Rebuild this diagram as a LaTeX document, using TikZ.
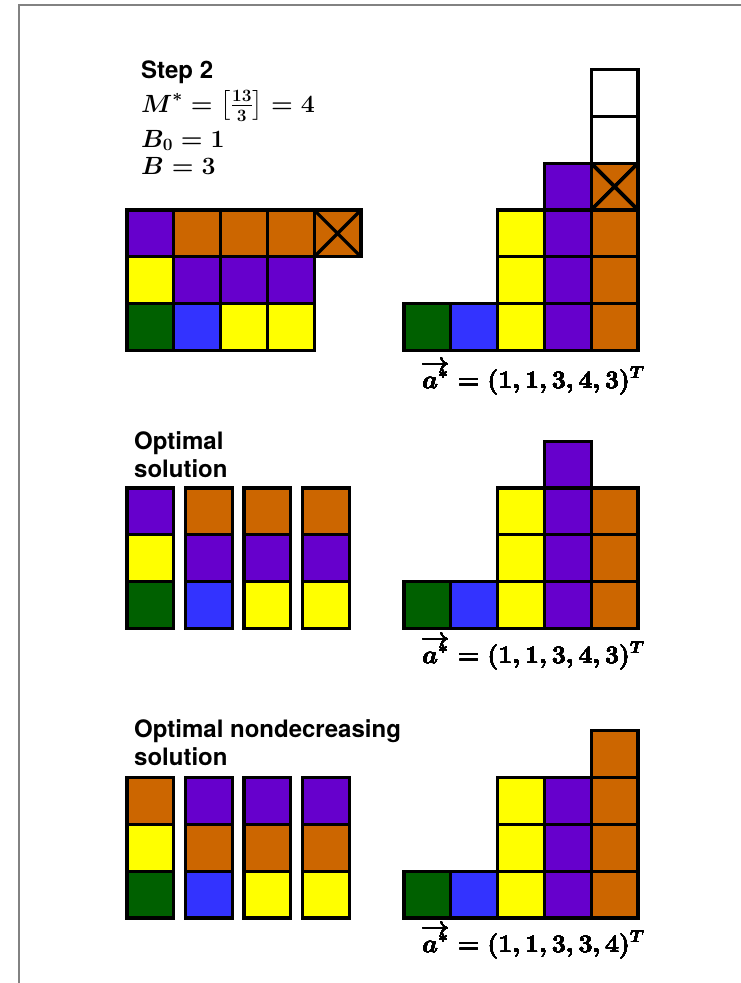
\documentclass[tikz,border=0pt]{standalone}
\usepackage{amsmath}
\usepackage{fontspec}
\setsansfont{TeX Gyre Heros}
\usepackage{xcolor}
\definecolor{binpurple}{RGB}{102, 0, 204}
\definecolor{binorange}{RGB}{204, 102, 0}
\definecolor{binyellow}{RGB}{255, 255, 0}
\definecolor{bingreen}{RGB}{0, 96, 0}
\definecolor{binblue}{RGB}{51, 51, 255}
\definecolor{framegray}{RGB}{130, 130, 130}
\usepackage{tikz}
\usetikzlibrary{positioning}

% one square of a packing, (x,y) is its upper left corner
\newcommand{\cellbox}[3]{\filldraw[cell, fill=#3] (#1,#2) rectangle ++(46.8,46.8);}
\newcommand{\crossbox}[2]{\draw[cell] (#1,#2) -- ++(46.8,46.8) (#1,#2) ++(46.8,0) -- ++(-46.8,46.8);}

\tikzset{
    cell/.style={draw=black, line width=3.2pt},
    title/.style={font=\fontsize{24}{28}\selectfont\sffamily\bfseries, inner sep=0pt, anchor=base west},
    formula/.style={font=\fontsize{25}{30}\selectfont\boldmath, inner sep=0pt, anchor=base west},
    pageframe/.style={draw=framegray, line width=2pt}
}

\begin{document}
\begin{tikzpicture}[x=1pt, y=-1pt]
    \useasboundingbox (0,0) rectangle (741,983);
    \draw[pageframe] (19,983) -- (19,5) -- (741,5);

    % ---- step 2
    \node[title] (step) at (141,78) {Step 2};
    \node[formula] (mstar) at (141,112) {$\boldsymbol{M}^{\boldsymbol{*}}\mathrel{\boldsymbol{=}}\bigl[\tfrac{\boldsymbol{13}}{\boldsymbol{3}}\bigr]\mathrel{\boldsymbol{=}}\boldsymbol{4}$};
    \node[formula] (bzero) at (141,147) {$B_0=1$};
    \node[formula] (bval) at (141,174) {$B=3$};

    % bins, left
    \cellbox{127}{210}{binpurple} \cellbox{173.8}{210}{binorange} \cellbox{220.6}{210}{binorange}
    \cellbox{267.4}{210}{binorange} \cellbox{314.2}{210}{binorange} \crossbox{314.2}{210}
    \cellbox{127}{256.8}{binyellow} \cellbox{173.8}{256.8}{binpurple} \cellbox{220.6}{256.8}{binpurple}
    \cellbox{267.4}{256.8}{binpurple}
    \cellbox{127}{303.6}{bingreen} \cellbox{173.8}{303.6}{binblue} \cellbox{220.6}{303.6}{binyellow}
    \cellbox{267.4}{303.6}{binyellow}

    % staircase, right
    \cellbox{404}{303.6}{bingreen} \cellbox{450.8}{303.6}{binblue}
    \foreach \y in {209.9,256.8,303.6} \cellbox{497.6}{\y}{binyellow}
    \foreach \y in {163.2,209.9,256.8,303.6} \cellbox{544.4}{\y}{binpurple}
    \foreach \y in {163.2,209.9,256.8,303.6} \cellbox{591.2}{\y}{binorange}
    \crossbox{591.2}{163.2}
    \cellbox{591.2}{69.6}{white} \cellbox{591.2}{116.4}{white}
    \node[formula] (vecone) at (421,388) {$\overrightarrow{a^*}=(1,1,3,4,3)^T$};

    % ---- optimal solution
    \node[title] (opt) at (134,449) {Optimal};
    \node[title] (optsol) at (134,477) {solution};
    \foreach \x/\ca/\cb/\cc in {127/binpurple/binyellow/bingreen, 185.5/binorange/binpurple/binblue,
                                244/binorange/binpurple/binyellow, 302.5/binorange/binpurple/binyellow} {
        \cellbox{\x}{488}{\ca} \cellbox{\x}{534.8}{\cb} \cellbox{\x}{581.6}{\cc}
    }
    \cellbox{404}{581.6}{bingreen} \cellbox{450.8}{581.6}{binblue}
    \foreach \y in {488,534.8,581.6} \cellbox{497.6}{\y}{binyellow}
    \foreach \y in {441.2,488,534.8,581.6} \cellbox{544.4}{\y}{binpurple}
    \foreach \y in {488,534.8,581.6} \cellbox{591.2}{\y}{binorange}
    \node[formula] (vectwo) at (421,663) {$\overrightarrow{a^*}=(1,1,3,4,3)^T$};

    % ---- optimal nondecreasing solution
    \node[title] (nondec) at (134,737) {Optimal nondecreasing};
    \node[title] (nondecsol) at (134,765) {solution};
    \foreach \x/\ca/\cb/\cc in {127/binorange/binyellow/bingreen, 185.5/binpurple/binorange/binblue,
                                244/binpurple/binorange/binyellow, 302.5/binpurple/binorange/binyellow} {
        \cellbox{\x}{777.6}{\ca} \cellbox{\x}{824.4}{\cb} \cellbox{\x}{871.2}{\cc}
    }
    \cellbox{404}{871.2}{bingreen} \cellbox{450.8}{871.2}{binblue}
    \foreach \y in {777.6,824.4,871.2} \cellbox{497.6}{\y}{binyellow}
    \foreach \y in {777.6,824.4,871.2} \cellbox{544.4}{\y}{binpurple}
    \foreach \y in {730.8,777.6,824.4,871.2} \cellbox{591.2}{\y}{binorange}
    \node[formula] (vecthree) at (421,952) {$\overrightarrow{a^*}=(1,1,3,3,4)^T$};
\end{tikzpicture}
\end{document}
